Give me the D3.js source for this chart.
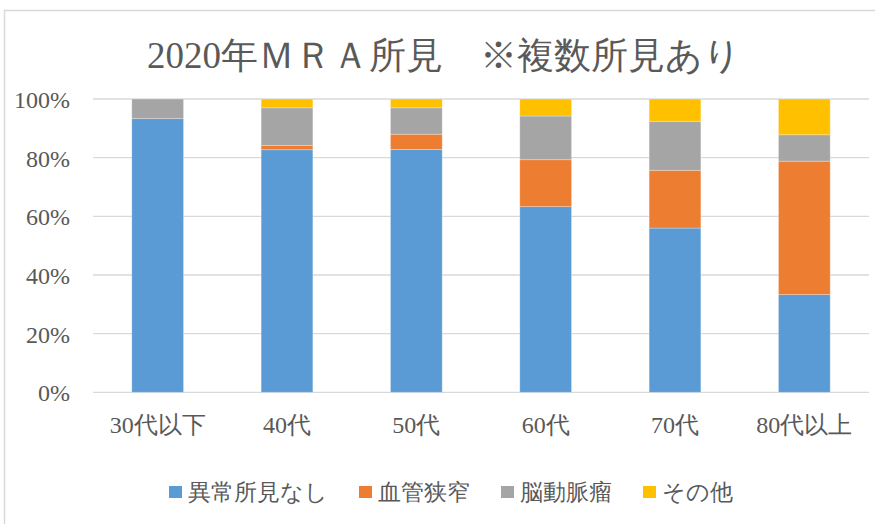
<!DOCTYPE html>
<html lang="ja">
<head>
<meta charset="utf-8">
<script src="https://cdn.jsdelivr.net/npm/d3@7/dist/d3.min.js"></script>
<style>
  html, body { margin: 0; padding: 0; background: #fff; }
  svg { display: block; }
</style>
</head>
<body>
<svg id="chart" width="875" height="524"></svg>
<script>
const title = "2020年ＭＲＡ所見　※複数所見あり";
const categories = ["30代以下", "40代", "50代", "60代", "70代", "80代以上"];
const seriesNames = ["異常所見なし", "血管狭窄", "脳動脈瘤", "その他"];
const normal    = [93.3, 82.7, 82.8, 63.3, 56.0, 33.3];
const stenosis  = [0.0,  1.4,  5.2, 16.0, 19.7, 45.5];
const aneurysm  = [6.7, 12.9,  9.0, 14.9, 16.7,  9.0];
const other     = [0.0,  3.0,  3.0,  5.8,  7.6, 12.2];
const yTicks = [0, 0.2, 0.4, 0.6, 0.8, 1.0];
const colors = ["#5B9BD5", "#ED7D31", "#A5A5A5", "#FFC000"];

const FONT = "'Liberation Serif'";
const TEXT_COLOR = "#595959";

const seriesValues = [normal, stenosis, aneurysm, other];
const rows = categories.map((c, i) => {
  const total = seriesValues.reduce((s, arr) => s + arr[i], 0);
  const r = { cat: c };
  seriesNames.forEach((n, k) => { r[n] = seriesValues[k][i] / total; });
  return r;
});

const svg = d3.select("#chart");

// chart area border
svg.append("rect")
  .attr("x", 4.5).attr("y", 10.5)
  .attr("width", 1000).attr("height", 1000)
  .attr("fill", "#fff").attr("stroke", "#D9D9D9").attr("stroke-width", 1.5);

// title
svg.append("text")
  .attr("x", 444).attr("y", 55)
  .attr("text-anchor", "middle")
  .attr("dominant-baseline", "central")
  .style("font-family", FONT).style("font-size", "37px").style("fill", TEXT_COLOR)
  .text(title);

const x = d3.scaleBand().domain(categories).range([93, 869]).paddingInner(0.6).paddingOuter(0.3);
const y = d3.scaleLinear().domain([0, 1]).range([392.3, 99]);

// gridlines
svg.append("g").selectAll("line").data(yTicks).join("line")
  .attr("x1", 93).attr("x2", 869)
  .attr("y1", d => y(d)).attr("y2", d => y(d))
  .attr("stroke", "#D9D9D9").attr("stroke-width", 1.3);

// y axis labels
const yAxis = d3.axisLeft(y).tickValues(yTicks).tickFormat(d3.format(".0%")).tickSize(0).tickPadding(0);
const yg = svg.append("g").attr("transform", "translate(70,0)").call(yAxis);
yg.attr("font-family", null);
yg.select(".domain").remove();
yg.selectAll("text")
  .style("font-family", FONT).style("font-size", "24px").style("fill", TEXT_COLOR)
  .attr("dy", "0.35em");

// stacked bars
const stack = d3.stack().keys(seriesNames);
const stacked = stack(rows);
svg.append("g").selectAll("g").data(stacked).join("g")
  .attr("fill", (d, i) => colors[i])
  .selectAll("rect").data(d => d).join("rect")
  .attr("x", d => x(d.data.cat))
  .attr("width", x.bandwidth())
  .attr("y", d => y(d[1]))
  .attr("height", d => Math.max(0, y(d[0]) - y(d[1])))
  .attr("stroke", "#ffffff").attr("stroke-opacity", 0.35).attr("stroke-width", 0.8);

// x axis labels
const xAxis = d3.axisBottom(x).tickSize(0).tickPadding(0);
const xg = svg.append("g").attr("transform", "translate(0,425)").call(xAxis);
xg.attr("font-family", null);
xg.select(".domain").remove();
xg.selectAll("text")
  .style("font-family", FONT).style("font-size", "24px").style("fill", TEXT_COLOR)
  .attr("dy", "0.35em").attr("y", 0);

// legend
const legend = svg.append("g");
let lx = 169;
seriesNames.forEach((n, i) => {
  const g = legend.append("g");
  g.append("rect").attr("x", lx).attr("y", 486).attr("width", 13).attr("height", 12).attr("fill", colors[i]);
  const t = g.append("text").attr("x", lx + 19).attr("y", 492)
    .attr("dominant-baseline", "central")
    .style("font-family", FONT).style("font-size", "23.3px").style("fill", TEXT_COLOR)
    .text(n);
  const w = t.node().getComputedTextLength();
  lx = lx + 19 + w + 31;
});
</script>
</body>
</html>
